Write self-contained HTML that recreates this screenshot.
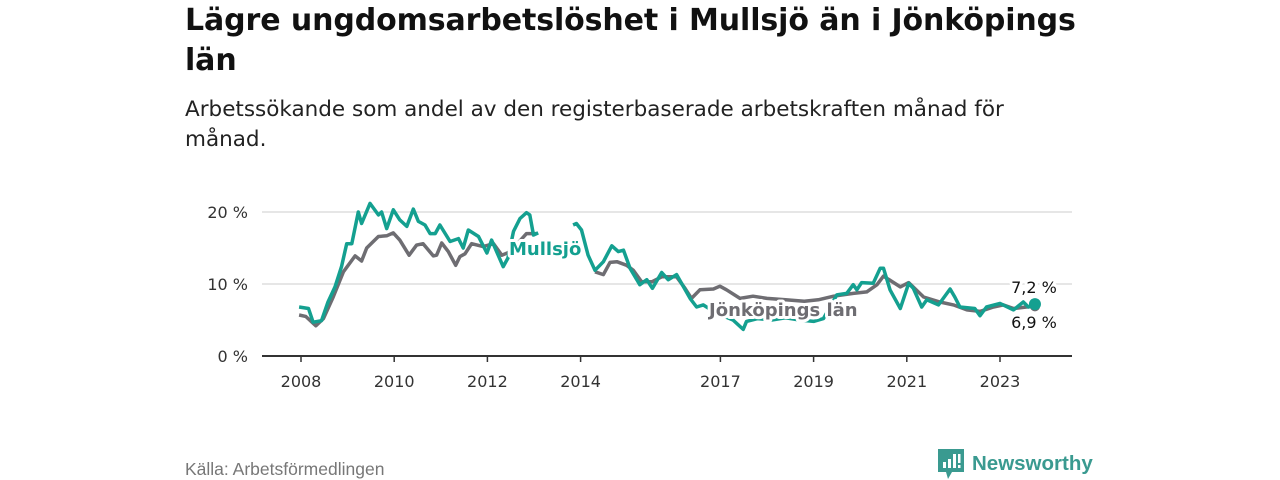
<!DOCTYPE html>
<html><head><meta charset="utf-8">
<style>
body{margin:0;width:1280px;height:480px;background:#fff;font-family:"Liberation Sans","DejaVu Sans",sans-serif;overflow:hidden;position:relative}
h1{position:absolute;left:185px;top:1px;margin:0;font-family:"DejaVu Sans",sans-serif;font-size:30px;line-height:40px;font-weight:bold;color:#111;width:910px;letter-spacing:-0.1px}
.sub{position:absolute;left:185px;top:95px;margin:0;font-family:"DejaVu Sans",sans-serif;font-size:21.5px;line-height:30px;color:#222;width:880px}
.src{position:absolute;left:185px;top:459px;font-size:17.5px;color:#777}
.logo{position:absolute;left:938px;top:449px;display:flex;align-items:center;color:#3a9a90;font-size:20.5px;font-weight:bold}
svg{position:absolute;left:0;top:0}
</style></head><body>
<h1>Lägre ungdomsarbetslöshet i Mullsjö än i Jönköpings län</h1>
<p class="sub">Arbetssökande som andel av den registerbaserade arbetskraften månad för månad.</p>
<svg id="chart" width="1280" height="480"></svg>
<div class="src">Källa: Arbetsförmedlingen</div>
<div class="logo">
<svg style="position:static;margin-right:8px" width="26" height="30" viewBox="0 0 26 30"><path d="M0 0H26V23H14L10 30L8 23H0Z" fill="#3a9a90"/><rect x="5" y="13" width="3" height="6" fill="#fff"/><rect x="10" y="10" width="3" height="9" fill="#fff"/><rect x="15" y="5" width="3" height="14" fill="#fff"/><rect x="20" y="5" width="2.5" height="9" fill="#fff"/><rect x="20" y="16" width="2.5" height="3" fill="#fff"/></svg>
<span>Newsworthy</span></div>
<script>
const mullsjoX=[2007.96,2008.16,2008.26,2008.44,2008.58,2008.73,2008.87,2008.98,2009.09,2009.23,2009.30,2009.48,2009.66,2009.73,2009.84,2009.98,2010.12,2010.27,2010.41,2010.52,2010.66,2010.77,2010.88,2010.98,2011.20,2011.38,2011.48,2011.59,2011.81,2011.99,2012.09,2012.34,2012.44,2012.56,2012.70,2012.84,2012.91,2012.99,2013.09,null,2013.84,2013.91,2014.02,2014.16,2014.31,2014.49,2014.67,2014.81,2014.92,2015.06,2015.27,2015.42,2015.54,2015.74,2015.88,2016.06,2016.35,2016.49,2016.63,2016.9,2017.27,2017.49,2017.56,2017.8,2018.1,2018.4,2018.7,2019.0,2019.21,2019.50,2019.71,2019.85,2019.93,2020.03,2020.28,2020.43,2020.50,2020.64,2020.86,2021.04,2021.14,2021.32,2021.43,2021.68,2021.93,2022.03,2022.14,2022.46,2022.57,2022.71,2023.00,2023.29,2023.50,2023.61,2023.75];
const mullsjoY=[6.8,6.6,4.7,4.9,7.5,9.6,12.4,15.6,15.6,20.0,18.4,21.2,19.6,20.0,17.7,20.3,18.9,18.0,20.4,18.7,18.2,17.0,17.0,18.2,15.9,16.3,15.0,17.5,16.6,14.3,16.1,12.4,13.6,17.3,19.1,19.9,19.6,16.8,17.1,null,18.2,18.4,17.5,14.0,11.9,13.1,15.3,14.5,14.7,12.2,9.9,10.6,9.4,11.6,10.6,11.3,8.0,6.8,7.1,6.0,5.0,3.7,4.8,5.2,5.0,5.3,5.0,4.8,5.2,8.5,8.7,9.9,9.2,10.2,10.1,12.2,12.2,9.2,6.6,10.1,9.4,6.8,7.8,7.1,9.3,8.2,6.8,6.6,5.6,6.8,7.3,6.4,7.5,6.8,7.2];
const lanX=[2007.96,2008.1,2008.32,2008.48,2008.69,2008.91,2009.16,2009.30,2009.41,2009.66,2009.84,2009.98,2010.12,2010.32,2010.48,2010.62,2010.84,2010.91,2011.02,2011.16,2011.32,2011.41,2011.52,2011.66,2011.91,2012.13,2012.31,2012.5,2012.7,2012.84,2013.06,null,2014.31,2014.49,2014.63,2014.78,2014.99,2015.13,2015.31,2015.53,2015.74,2016.06,2016.24,2016.38,2016.56,2016.85,2016.99,2017.13,2017.42,2017.70,2018.0,2018.4,2018.8,2019.1,2019.43,2019.85,2020.14,2020.36,2020.50,2020.86,2021.04,2021.36,2021.71,2022.00,2022.29,2022.57,2022.86,2023.07,2023.29,2023.57,2023.75];
const lanY=[5.7,5.5,4.2,5.2,8.2,11.7,13.9,13.2,15.0,16.6,16.7,17.1,16.1,14.0,15.4,15.6,13.9,14.0,15.7,14.5,12.6,13.8,14.2,15.6,15.2,15.6,14.0,14.5,16.0,17.0,17.0,null,11.7,11.3,13.0,13.1,12.6,11.9,10.3,10.3,11.0,11.0,9.4,8.0,9.2,9.3,9.7,9.2,8.0,8.3,8.0,7.8,7.6,7.8,8.3,8.7,8.9,9.9,11.1,9.6,10.2,8.2,7.5,7.1,6.4,6.2,6.8,7.1,6.6,6.8,6.9];
const xTicks=[2008,2010,2012,2014,2017,2019,2021,2023];
const yTicks=[0,10,20];
const yLabels=["0 %","10 %","20 %"];

const NS="http://www.w3.org/2000/svg";
const svg=document.getElementById('chart');
const xs=v=>301+(v-2008)*46.6;
const ys=v=>356-v*7.2;
function mk(t,a){const e=document.createElementNS(NS,t);for(const k in a)e.setAttribute(k,a[k]);svg.appendChild(e);return e;}
yTicks.forEach((t,i)=>{
  if(t>0){const g=mk('line',{x1:262,x2:1072,y1:ys(t),y2:ys(t),stroke:'#ddd','stroke-width':1.5});
  
  }
  const l=mk('text',{x:248,y:ys(t)+6,'text-anchor':'end','font-size':16,'font-family':'DejaVu Sans, sans-serif',fill:'#333'});
  l.textContent=yLabels[i];
  
  
});
const ax=mk('line',{x1:262,x2:1072,y1:356,y2:356,stroke:'#333','stroke-width':2});


xTicks.forEach(t=>{
  const tk=mk('line',{x1:xs(t),x2:xs(t),y1:356,y2:362,stroke:'#333','stroke-width':1.5});
  
  
  const l=mk('text',{x:xs(t),y:387,'text-anchor':'middle','font-size':16,'font-family':'DejaVu Sans, sans-serif',fill:'#333'});
  l.textContent=t;
  
  
});
function path(X,Y){let d='',pen=false;for(let i=0;i<X.length;i++){if(X[i]==null||Y[i]==null){pen=false;continue;}d+=(pen?'L':'M')+xs(X[i]).toFixed(1)+' '+ys(Y[i]).toFixed(1);pen=true;}return d;}
const pl=mk('path',{d:path(lanX,lanY),fill:'none',stroke:'#6e6d72','stroke-width':3.5,'stroke-linejoin':'round'});


const pm=mk('path',{d:path(mullsjoX,mullsjoY),fill:'none',stroke:'#14a090','stroke-width':3.5,'stroke-linejoin':'round'});


const lastM=mullsjoX.length-1,lastL=lanX.length-1;
const dl=mk('circle',{cx:xs(lanX[lastL]),cy:ys(lanY[lastL]),r:5,fill:'#6e6d72'});


const dm=mk('circle',{cx:xs(mullsjoX[lastM]),cy:ys(mullsjoY[lastM]),r:6,fill:'#14a090'});


function lab(txt,x,y,fill,size,bold,name,anchor){const t=mk('text',{x:x,y:y,fill:fill,'font-size':size,'font-family':'DejaVu Sans, sans-serif','font-weight':bold?'bold':'normal',stroke:'#fff','stroke-width':6,'paint-order':'stroke','stroke-linejoin':'round','text-anchor':anchor||'start'});t.textContent=txt;

}
lab('Mullsjö',509,255,'#14a090',18,true,'mullsjo-label');
lab('Jönköpings län',709,316,'#6e6d72',18,true,'jonkoping-label');
lab('7,2 %',1034,293,'#111',16,false,'mullsjo-end-value','middle');
lab('6,9 %',1034,328,'#111',16,false,'jonkoping-end-value','middle');
</script>
</body></html>
